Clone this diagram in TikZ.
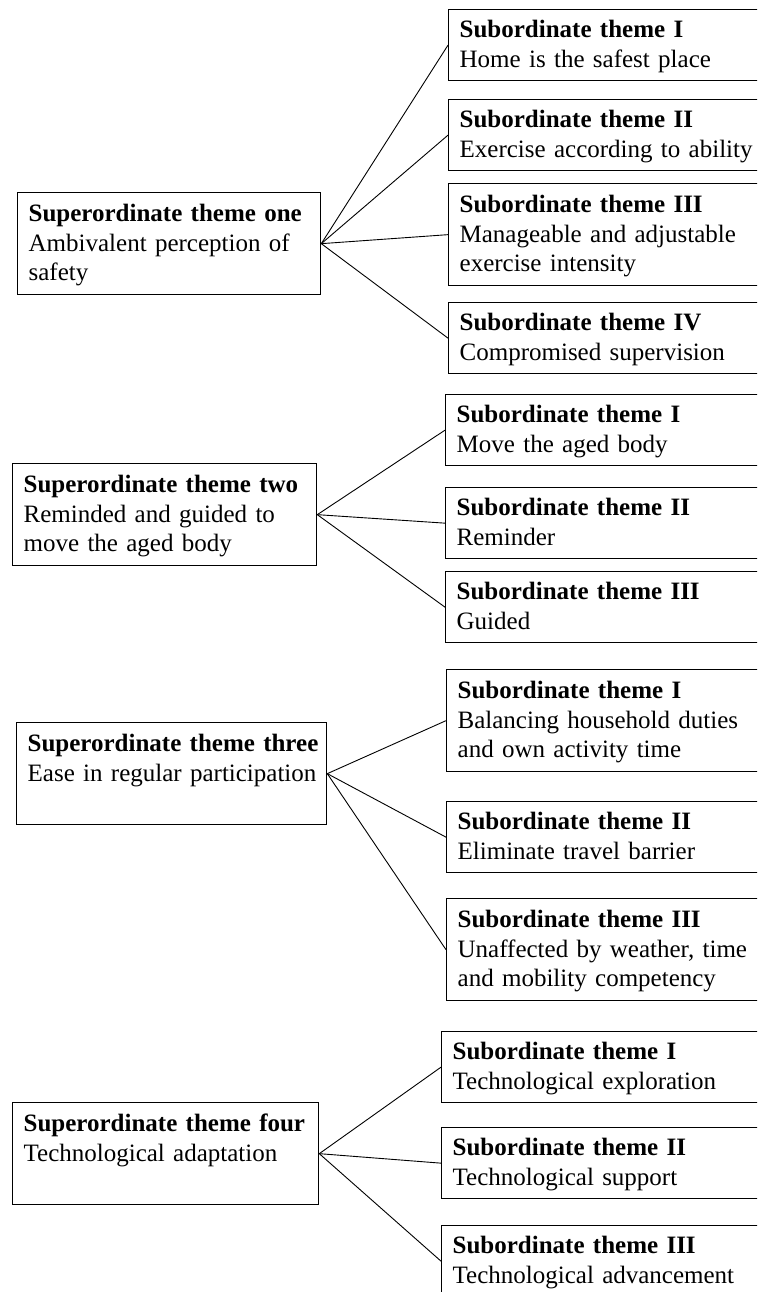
\documentclass[tikz,border=0pt]{standalone}
\usepackage{fontspec}
\setmainfont{Liberation Serif}
\newcommand{\tstrut}{\rule[-3.7pt]{0pt}{14.75pt}}
\newcommand{\tl}[1]{\mbox{\tstrut#1}}
\begin{document}
\begin{tikzpicture}[x=0.5pt,y=-0.5pt,
  theme/.style={draw,line width=0.65pt,anchor=north west,align=left,
    inner xsep=5.5pt,inner ysep=0pt,font=\fontsize{12.5}{14.75}\selectfont},
  supbox/.style={theme,minimum height=51pt},
  subbox/.style={theme,text width=159pt,minimum height=35.5pt},
  subtall/.style={subbox,minimum height=51pt},
  link/.style={draw,line width=0.45pt}]
\useasboundingbox (0,0) rectangle (757,1292);
\clip (0,0) rectangle (757,1292);
% superordinate theme one
\node[supbox,text width=140.5pt] (sup1) at (17,192)
 {\tl{\textbf{Superordinate theme one}}\\\tl{Ambivalent perception of}\\\tl{safety}};
\node[subbox] (sub1a) at (448,9)
 {\tl{\textbf{Subordinate theme I}}\\\tl{Home is the safest place}};
\node[subbox] (sub1b) at (448,99)
 {\tl{\textbf{Subordinate theme II}}\\\tl{Exercise according to ability}};
\node[subtall] (sub1c) at (448,183)
 {\tl{\textbf{Subordinate theme III}}\\\tl{Manageable and adjustable}\\\tl{exercise intensity}};
\node[subbox] (sub1d) at (448,302)
 {\tl{\textbf{Subordinate theme IV}}\\\tl{Compromised supervision}};
\draw[link] (sup1.east) -- (sub1a.west);
\draw[link] (sup1.east) -- (sub1b.west);
\draw[link] (sup1.east) -- (sub1c.west);
\draw[link] (sup1.east) -- (sub1d.west);
% superordinate theme two
\node[supbox,text width=141pt] (sup2) at (12,463)
 {\tl{\textbf{Superordinate theme two}}\\\tl{Reminded and guided to}\\\tl{move the aged body}};
\node[subbox] (sub2a) at (445,394)
 {\tl{\textbf{Subordinate theme I}}\\\tl{Move the aged body}};
\node[subbox] (sub2b) at (445,487)
 {\tl{\textbf{Subordinate theme II}}\\\tl{Reminder}};
\node[subbox] (sub2c) at (445,571)
 {\tl{\textbf{Subordinate theme III}}\\\tl{Guided}};
\draw[link] (sup2.east) -- (sub2a.west);
\draw[link] (sup2.east) -- (sub2b.west);
\draw[link] (sup2.east) -- (sub2c.west);
% superordinate theme three
\node[supbox,text width=144pt] (sup3) at (16,722)
 {\tl{\textbf{Superordinate theme three}}\\\tl{Ease in regular participation}\\\tl{}};
\node[subtall] (sub3a) at (446,669)
 {\tl{\textbf{Subordinate theme I}}\\\tl{Balancing household duties}\\\tl{and own activity time}};
\node[subbox] (sub3b) at (446,801)
 {\tl{\textbf{Subordinate theme II}}\\\tl{Eliminate travel barrier}};
\node[subtall] (sub3c) at (446,898)
 {\tl{\textbf{Subordinate theme III}}\\\tl{Unaffected by weather, time}\\\tl{and mobility competency}};
\draw[link] (sup3.east) -- (sub3a.west);
\draw[link] (sup3.east) -- (sub3b.west);
\draw[link] (sup3.east) -- (sub3c.west);
% superordinate theme four
\node[supbox,text width=142pt] (sup4) at (12,1102)
 {\tl{\textbf{Superordinate theme four}}\\\tl{Technological adaptation}\\\tl{}};
\node[subbox] (sub4a) at (441,1031)
 {\tl{\textbf{Subordinate theme I}}\\\tl{Technological exploration}};
\node[subbox] (sub4b) at (441,1127)
 {\tl{\textbf{Subordinate theme II}}\\\tl{Technological support}};
\node[subbox] (sub4c) at (441,1225)
 {\tl{\textbf{Subordinate theme III}}\\\tl{Technological advancement}};
\draw[link] (sup4.east) -- (sub4a.west);
\draw[link] (sup4.east) -- (sub4b.west);
\draw[link] (sup4.east) -- (sub4c.west);
\end{tikzpicture}
\end{document}
